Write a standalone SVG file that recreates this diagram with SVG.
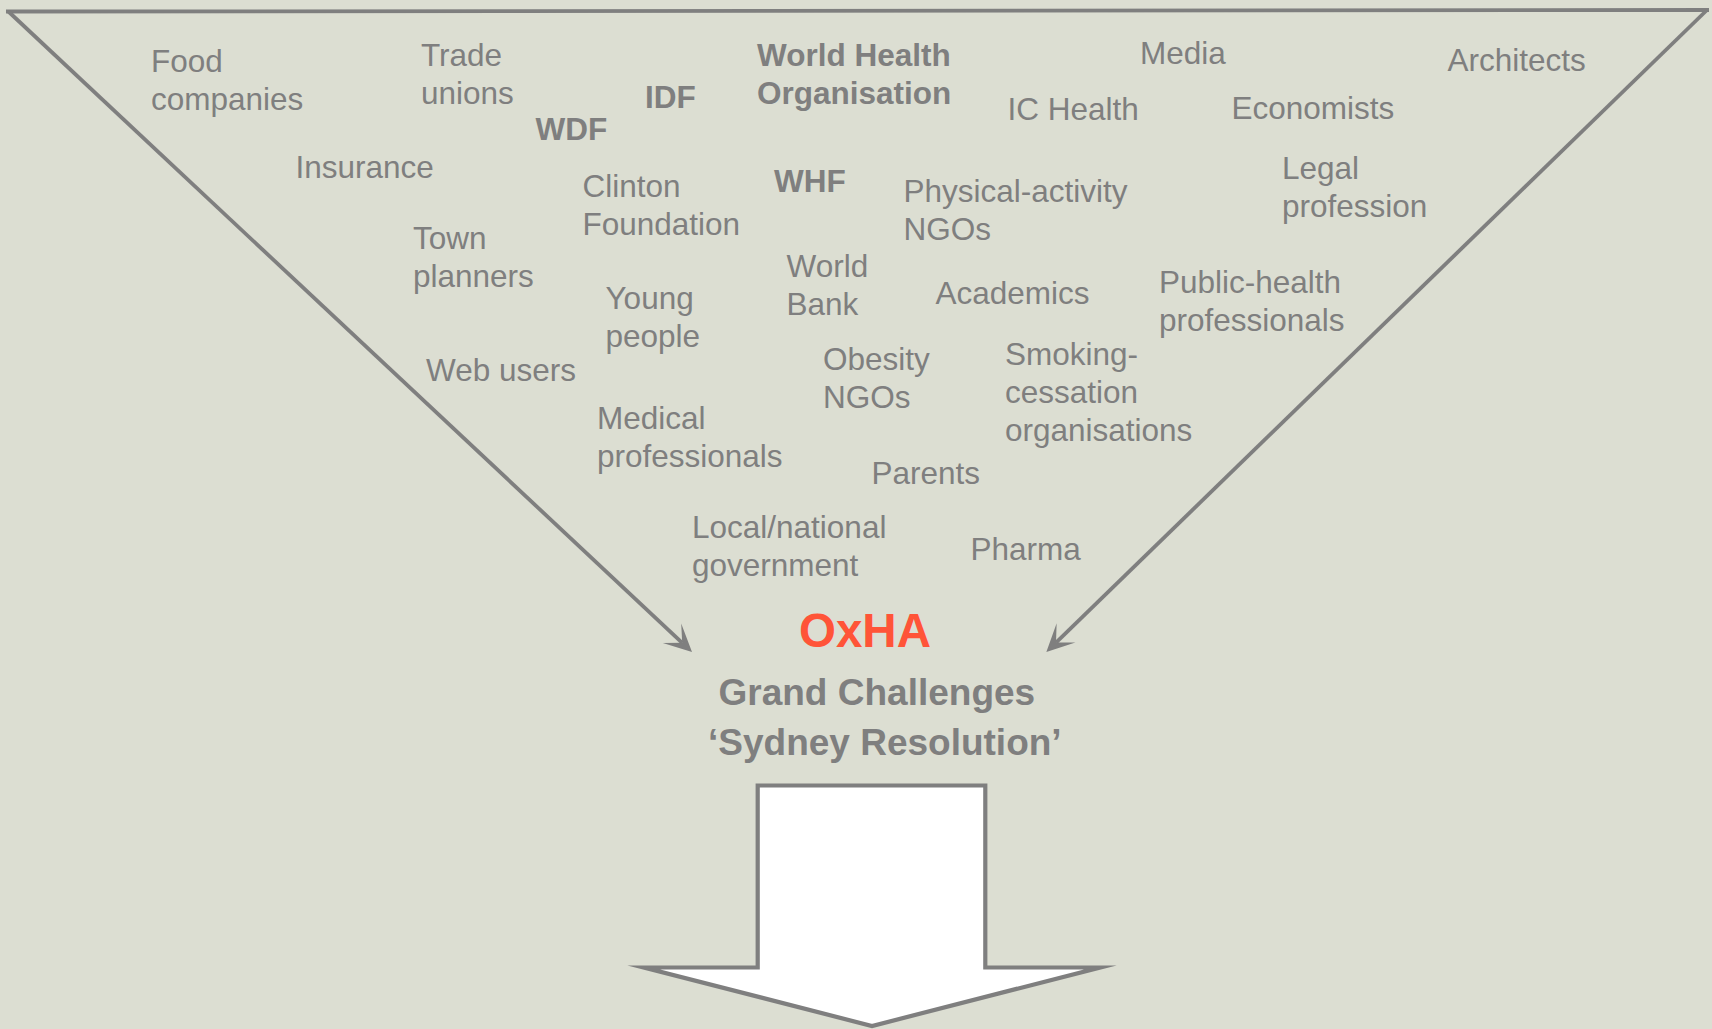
<svg xmlns="http://www.w3.org/2000/svg" width="1712" height="1029" viewBox="0 0 1712 1029">
  <style>
    .lbl { font-family: "Liberation Sans", Arial, sans-serif; font-size: 31.5px; fill: #7f7f7f; }
    .bold { font-weight: bold; }
    .hub { font-family: "Liberation Sans", Arial, sans-serif; font-weight: bold; font-size: 47.5px; fill: #ff5438; }
    .sub { font-family: "Liberation Sans", Arial, sans-serif; font-weight: bold; font-size: 37px; fill: #7f7f7f; }
    .edge { stroke: #7f7f7f; stroke-width: 3.8; fill: none; }
  </style>
  <defs>
    <marker id="stealth" markerUnits="userSpaceOnUse" markerWidth="30" markerHeight="30" viewBox="-1 -14 29 28" refX="13.5" refY="0" orient="auto" overflow="visible">
      <path d="M0,-13 L26.5,0 L0,13 L13.5,0 Z" fill="#7f7f7f"/>
    </marker>
  </defs>

  <rect x="0" y="0" width="1712" height="1029" fill="#dcded2"/>

  <!-- funnel outline and converging arrows -->
  <g id="connectors">
    <line class="edge" x1="6" y1="11.5" x2="1709" y2="10"/>
    <line class="edge" x1="8.4" y1="11.5" x2="682.2" y2="642.8" marker-end="url(#stealth)"/>
    <line class="edge" x1="1707" y1="10" x2="1056" y2="642.6" marker-end="url(#stealth)"/>
  </g>

  <!-- stakeholders -->
  <g id="food-companies"><text class="lbl" x="151" y="71.5">Food<tspan x="151" dy="38">companies</tspan></text></g>
  <g id="trade-unions"><text class="lbl" x="421" y="66">Trade<tspan x="421" dy="38">unions</tspan></text></g>
  <g id="wdf"><text class="lbl bold" x="535.5" y="140">WDF</text></g>
  <g id="idf"><text class="lbl bold" x="645" y="108">IDF</text></g>
  <g id="who"><text class="lbl bold" x="757" y="66">World Health<tspan x="757" dy="38">Organisation</tspan></text></g>
  <g id="media"><text class="lbl" x="1140" y="63.5">Media</text></g>
  <g id="architects"><text class="lbl" x="1447.5" y="71">Architects</text></g>
  <g id="ic-health"><text class="lbl" x="1007.5" y="120">IC Health</text></g>
  <g id="economists"><text class="lbl" x="1231.5" y="119">Economists</text></g>
  <g id="insurance"><text class="lbl" x="295.5" y="177.5">Insurance</text></g>
  <g id="clinton-foundation"><text class="lbl" x="582.5" y="196.5">Clinton<tspan x="582.5" dy="38">Foundation</tspan></text></g>
  <g id="whf"><text class="lbl bold" x="774" y="191.5">WHF</text></g>
  <g id="physical-activity-ngos"><text class="lbl" x="903.5" y="201.5">Physical-activity<tspan x="903.5" dy="38">NGOs</tspan></text></g>
  <g id="legal-profession"><text class="lbl" x="1282" y="178.5">Legal<tspan x="1282" dy="38">profession</tspan></text></g>
  <g id="town-planners"><text class="lbl" x="413" y="249">Town<tspan x="413" dy="38">planners</tspan></text></g>
  <g id="world-bank"><text class="lbl" x="786.5" y="276.5">World<tspan x="786.5" dy="38">Bank</tspan></text></g>
  <g id="young-people"><text class="lbl" x="605.5" y="308.5">Young<tspan x="605.5" dy="38">people</tspan></text></g>
  <g id="academics"><text class="lbl" x="935.5" y="303.5">Academics</text></g>
  <g id="public-health-professionals"><text class="lbl" x="1159" y="292.5">Public-health<tspan x="1159" dy="38">professionals</tspan></text></g>
  <g id="web-users"><text class="lbl" x="426" y="380.5">Web users</text></g>
  <g id="obesity-ngos"><text class="lbl" x="823" y="369.5">Obesity<tspan x="823" dy="38">NGOs</tspan></text></g>
  <g id="smoking-cessation"><text class="lbl" x="1005" y="364.5">Smoking-<tspan x="1005" dy="38">cessation</tspan><tspan x="1005" dy="38">organisations</tspan></text></g>
  <g id="medical-professionals"><text class="lbl" x="597" y="429">Medical<tspan x="597" dy="38">professionals</tspan></text></g>
  <g id="parents"><text class="lbl" x="871.5" y="484">Parents</text></g>
  <g id="government"><text class="lbl" x="692" y="537.5">Local/national<tspan x="692" dy="38">government</tspan></text></g>
  <g id="pharma"><text class="lbl" x="970.5" y="559.5">Pharma</text></g>

  <!-- convergence point -->
  <g id="oxha"><text class="hub" x="799" y="646.5">OxHA</text></g>
  <g id="grand-challenges">
    <text class="sub" x="718.5" y="705">Grand Challenges</text>
    <text class="sub" x="708" y="755">‘Sydney Resolution’</text>
  </g>

  <!-- outgoing block arrow -->
  <g id="outcome-arrow">
    <polygon points="757.7,785.5 985.3,785.5 985.3,967.5 1100,967.5 872,1026 644,967.5 757.7,967.5" fill="#ffffff" stroke="#7f7f7f" stroke-width="4.2" stroke-linejoin="miter" stroke-miterlimit="12"/>
  </g>
</svg>
